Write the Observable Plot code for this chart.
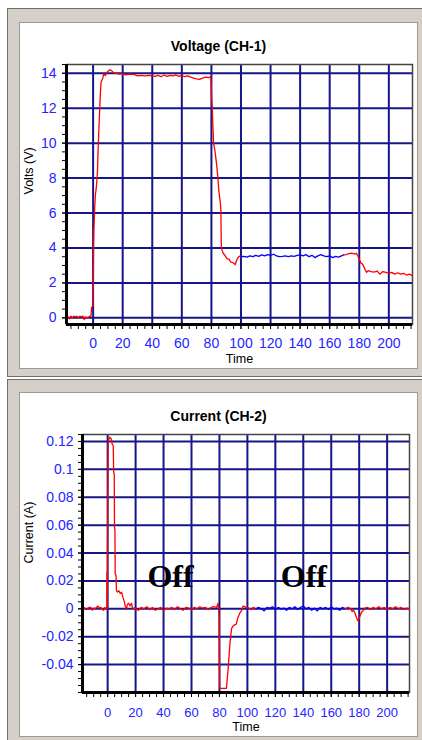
<!DOCTYPE html>
<html><head><meta charset="utf-8">
<script src="https://cdn.jsdelivr.net/npm/d3@7"></script>
<script src="https://cdn.jsdelivr.net/npm/@observablehq/plot@0.6"></script>
<style>
html,body{margin:0;padding:0;background:#fff;}
body{width:422px;height:740px;overflow:hidden;position:relative;font-family:"Liberation Sans",Arial,sans-serif;}
.win{position:absolute;left:7px;width:415px;background:#d4d0c8;border-top:1px solid #6e6e6e;border-left:1px solid #6e6e6e;border-bottom:1px solid #6e6e6e;box-sizing:border-box;}
.panel{position:absolute;left:11px;width:399px;background:#fff;box-shadow:inset 0 0 0 1px #9a9a9a;}
.title{position:absolute;left:0;width:100%;top:16px;line-height:16px;text-align:center;font-weight:bold;font-size:14px;color:#000;}
.panel svg{position:absolute;left:0;top:0;}
</style></head>
<body>
<div class="win" style="top:8px;height:369px;"><div class="panel" id="p1" style="top:13px;height:347px;"><div class="title">Voltage (CH-1)</div></div></div>
<div class="win" style="top:379px;height:362px;"><div class="panel" id="p2" style="top:12px;height:345px;"><div class="title">Current (CH-2)</div></div></div>
<script>
// ---- data ----
const xMajor = [0, 20, 40, 60, 80, 100, 120, 140, 160, 180, 200];
const voltMajor = [0, 2, 4, 6, 8, 10, 12, 14];
const curMajor = [-0.04, -0.02, 0, 0.02, 0.04, 0.06, 0.08, 0.1, 0.12];

const voltRed1T = [-18,-17,-16,-15,-14,-13,-12,-11,-10,-9,-8,-7,-6,-5,-4,-3,-2,-1.5,-1,0,0.3,0.5,1.1,1.5,2.2,2.7,3.0,3.4,4.0,4.5,5.0,5.4,6.5,7.2,8.3,9.5,11.2,12.5,13.9,15,18,20,22,25,28,30,32,35,38,40,42,44,46,48,50,52,54,56,58,60,62,64,66,68,70,72,74,76,78,79.7,80.2,80.6,81.0,81.5,82.5,83.5,84.4,85,86,86.4,86.7,87.2,88,89,90.5,92,93,95,96.1,97.3,98,99,100];
const voltRed1V = [0.0,0.05,-0.05,0.1,0.0,0.1,0.05,0.1,0.0,0.1,0.05,0.1,-0.1,0.05,0.0,0.05,0.1,0.1,0.6,0.7,4.0,5.0,6.3,7.0,7.5,8.0,8.5,9.7,11.0,12.0,13.0,13.5,13.7,13.96,13.87,14.06,14.2,14.15,14.02,14.0,13.95,13.98,13.9,13.95,13.92,13.85,13.88,13.85,13.88,13.85,13.82,13.88,13.8,13.9,13.82,13.88,13.85,13.9,13.82,13.88,13.8,13.85,13.78,13.72,13.68,13.65,13.72,13.78,13.75,13.8,12.5,12.0,11.0,10.0,9.5,8.8,8.0,7.3,6.6,6.15,4.1,3.87,3.7,3.6,3.39,3.35,3.2,3.14,3.05,3.34,3.45,3.53,3.5];
const voltBlueT = [100,102,104,106,108,110,112,114,116,118,120,122,124,126,128,130,132,134,136,138,140,142,144,146,148,150,152,154,156,158,160,162,164,166,168,169.5];
const voltBlueV = [3.5,3.52,3.48,3.55,3.5,3.58,3.52,3.6,3.55,3.62,3.58,3.64,3.55,3.5,3.52,3.55,3.5,3.55,3.52,3.58,3.6,3.55,3.62,3.5,3.58,3.45,3.55,3.62,3.55,3.5,3.55,3.45,3.52,3.48,3.55,3.6];
const voltRed2T = [169.5,171,173,175,177,178,179,180,181,182,183,184,185,186,188,190,192,194,196,198,200,202,204,206,208,210,212,214,216];
const voltRed2V = [3.6,3.62,3.68,3.7,3.65,3.7,3.55,3.35,3.15,3.1,2.95,2.75,2.6,2.7,2.65,2.62,2.68,2.5,2.65,2.6,2.55,2.6,2.5,2.58,2.5,2.55,2.45,2.5,2.4];

const curRed1T = [-18,-17,-16,-15,-14,-13,-12,-11,-10,-9,-8,-7,-6,-5,-4,-3,-2,-1,
  -0.6,-0.5,-0.3,0.3,1.5,2.5,3.3,4.0,4.3,4.7,4.9,5.2,5.4,6.0,6.3,7,8,9,10,11,12,12.5,13,13.6,14,15,16,17,18,19,20,
  22,24,26,28,30,32,34,36,38,40,42,44,46,48,50,52,54,56,58,60,62,64,66,68,70,72,74,76,
  78,79,79.5,79.8,80.2,85,86.3,87.5,88.7,90,92,93,94.6,96,97,99,101,103,104,106];
const curRed1V = [0,0.001,0,-0.0005,0.0005,0.001,0.001,-0.001,0.0005,0,0.001,0.002,0.0005,0.001,0,-0.001,0.001,0,
  0.0,0.026,0.0,0.12,0.123,0.122,0.118,0.117,0.098,0.097,0.058,0.057,0.025,0.024,0.013,0.012,0.013,0.011,0.012,0.008,0.005,0.002,0.001,0.0,0.003,0.004,0.002,0.004,0.0,0.0005,0.0,
  -0.001,0.001,0,0.0015,-0.0005,0.001,-0.001,0,0.001,-0.0015,0.0005,0,0.001,-0.0005,0.0015,0,-0.001,0.001,0.0005,-0.0005,0.001,0,0.0015,0.0005,0.001,-0.0005,0.001,0.0015,
  0.001,0.004,0.0,-0.005,-0.057,-0.057,-0.042,-0.025,-0.014,-0.012,-0.011,-0.007,-0.003,-0.001,0.002,0.001,0.0005,-0.0005,0.001,0.0];
const curBlueT = [106,108,110,112,114,116,118,120,122,124,126,128,130,132,134,136,138,140,142,144,146,148,150,152,154,156,158,160,162,164,166,168,170];
const curBlueV = [0,0.001,0,-0.0015,0.001,0.0005,0.0015,-0.0005,0.001,0,0.0005,-0.001,0.001,0,0.0015,-0.0005,0.001,0.002,0,0.001,-0.001,0.0005,-0.0015,0.001,0,0.001,-0.0005,0.0015,0,0.0005,-0.001,0.001,0];
const curRed2T = [170,172,174,175,176,177,178,179,180,181,182,183,184,186,188,190,192,194,196,198,200,202,204,206,208,210,212,214,216];
const curRed2V = [0,0.001,0,-0.002,-0.001,-0.003,-0.006,-0.0085,-0.007,-0.004,-0.002,-0.001,0.0005,0.001,-0.0005,0.001,0,0.0015,0,0.001,-0.0005,0.001,0,0.0015,0,0.001,-0.0005,0.0005,0];

const offText = ["Off", "Off"];
const offX = [45, 140.4];
const offY = [0.023, 0.023];

// ---- drawing ----
const navy = "#16168a";
const tickBlue = "#2424ff";
const xDomain = [-18, 216];
const xMinor = d3.range(-15, 216, 5);

function chart({mL, mR, mT, mB, height, yDomain, yMajor, yMinor, yLabel, yLabelDx, tickPadY, tickPadX, timeDy, xFont, series, extra = []}) {
  return Plot.plot({
    width: 399, height,
    marginLeft: mL, marginRight: mR, marginTop: mT, marginBottom: mB,
    x: {domain: xDomain},
    y: {domain: yDomain},
    style: {background: "transparent", fontFamily: "Liberation Sans, Arial, sans-serif", fontSize: "14px", overflow: "visible"},
    marks: [
      Plot.gridX(xMajor, {stroke: navy, strokeOpacity: 1, strokeWidth: 2}),
      Plot.gridY(yMajor, {stroke: navy, strokeOpacity: 1, strokeWidth: 2}),
      Plot.frame({stroke: "#444", strokeWidth: 1.5}),
      ...series.map(([t, v, c]) => Plot.line(v, {x: t, y: v, stroke: c, strokeWidth: 1.3})),
      ...extra,
      Plot.ruleX([xDomain[0]], {stroke: "#000", strokeWidth: 3}),
      Plot.ruleY([yDomain[0]], {stroke: "#000", strokeWidth: 3}),
      Plot.axisX(xMinor, {tickSize: 5, tickFormat: () => "", label: null, stroke: "#000"}),
      Plot.axisX(xMajor, {tickSize: 5, tickPadding: tickPadX, tickFormat: d => String(d), label: null, fill: tickBlue, stroke: "#000", fontSize: xFont}),
      Plot.axisY(yMinor, {tickSize: 4, tickFormat: () => "", label: null, stroke: "#000"}),
      Plot.axisY(yMajor, {tickSize: 4, tickPadding: tickPadY, tickFormat: d => String(d), label: null, fill: tickBlue, stroke: "#000", fontSize: 14}),
      Plot.text(["Time"], {frameAnchor: "bottom", dy: timeDy, fill: "#000", fontSize: 12.5}),
      Plot.text([yLabel], {frameAnchor: "left", dx: yLabelDx, rotate: -90, fill: "#000", fontSize: 12.5})
    ]
  });
}

const c1 = chart({
  mL: 47, mR: 6, mT: 42, mB: 45, height: 347,
  yDomain: [-0.38, 14.5], yMajor: voltMajor, yMinor: d3.range(0, 14.51, 0.5),
  yLabel: "Volts (V)", yLabelDx: -38, tickPadY: 6, tickPadX: 9, timeDy: 38, xFont: 14,
  series: [[voltRed1T, voltRed1V, "#ff0000"], [voltBlueT, voltBlueV, "#0000ff"], [voltRed2T, voltRed2V, "#ff0000"]]
});
document.getElementById("p1").appendChild(c1);

const c2 = chart({
  mL: 63, mR: 9, mT: 42, mB: 45, height: 345,
  yDomain: [-0.06, 0.125], yMajor: curMajor, yMinor: d3.range(-0.06, 0.1251, 0.005),
  yLabel: "Current (A)", yLabelDx: -54, tickPadY: 5, tickPadX: 10, timeDy: 38, xFont: 13,
  series: [[curRed1T, curRed1V, "#ff0000"], [curBlueT, curBlueV, "#0000ff"], [curRed2T, curRed2V, "#ff0000"]],
  extra: [Plot.text(offText, {x: offX, y: offY, text: offText, fontFamily: "Liberation Serif, Times New Roman, serif", fontWeight: "bold", fontSize: 32, fill: "#000"})]
});
document.getElementById("p2").appendChild(c2);
</script>
</body></html>
